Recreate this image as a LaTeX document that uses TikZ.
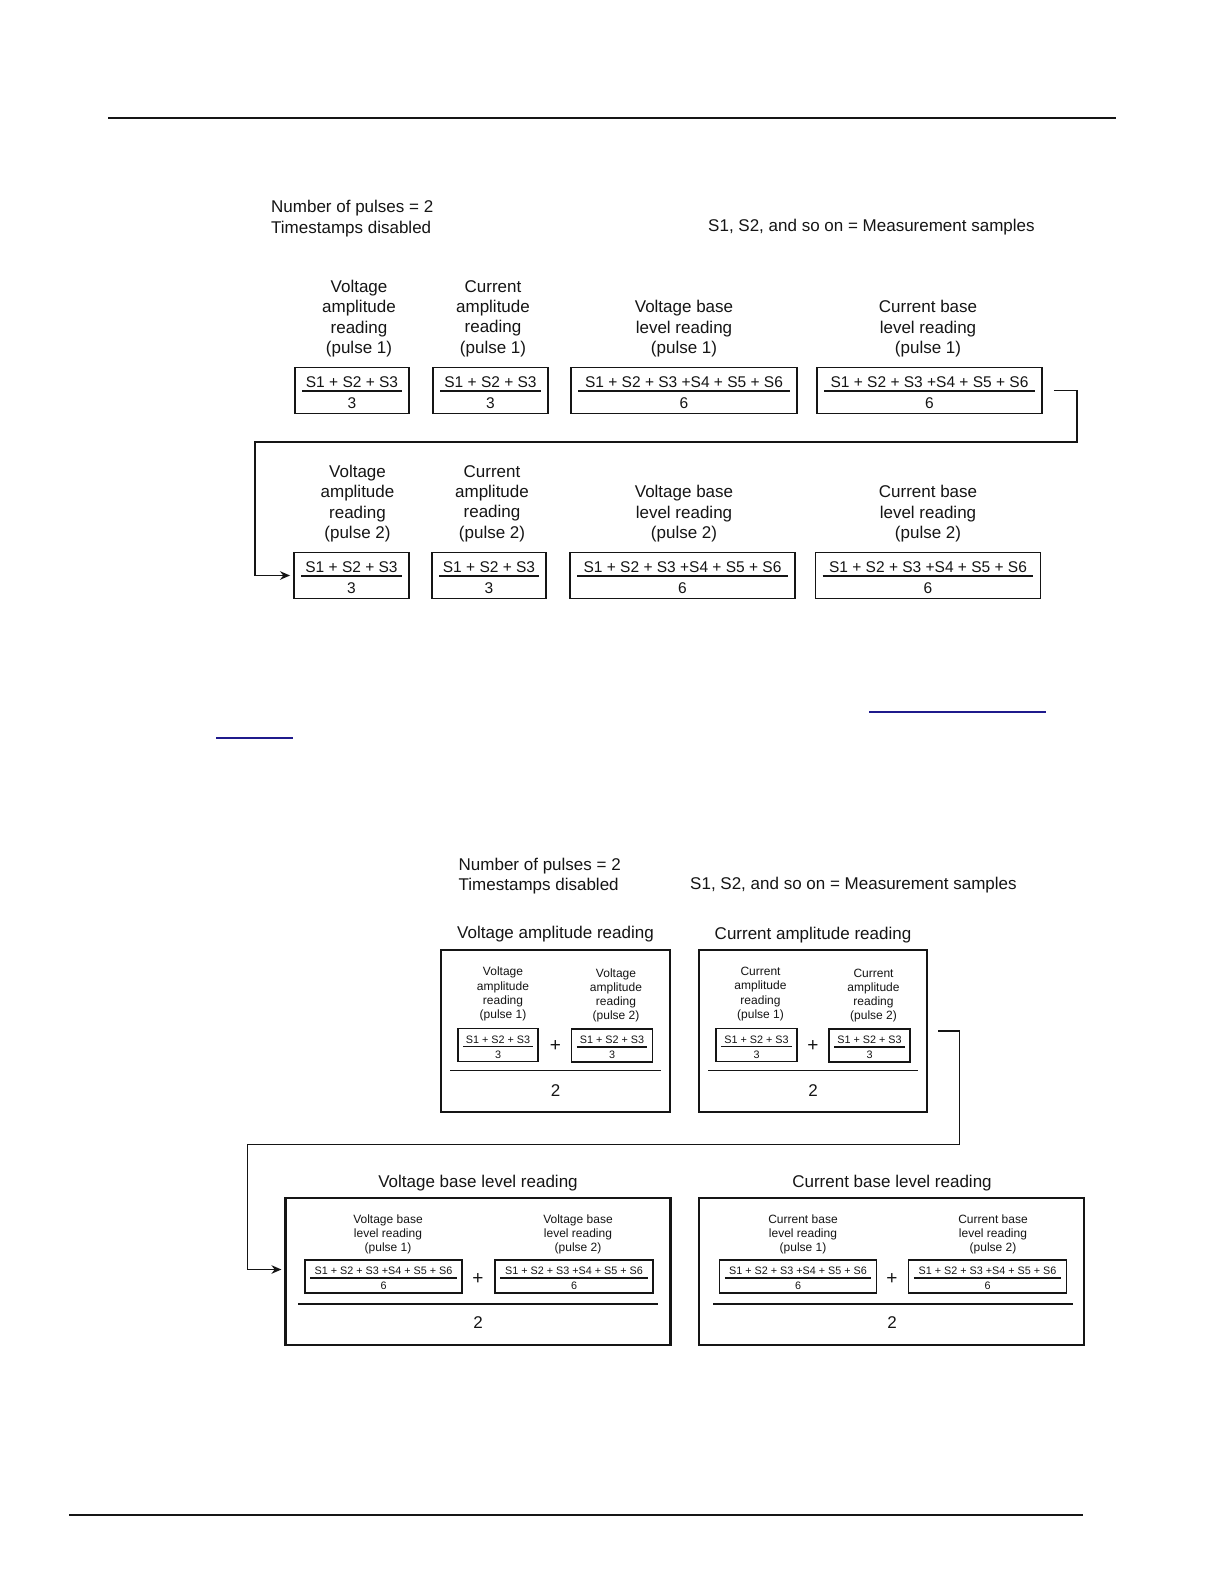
\documentclass[tikz,border=0pt]{standalone}
\usepackage{fontspec}
\setmainfont{Liberation Sans}
\usepackage{tikz}
\usetikzlibrary{arrows.meta, positioning, calc}
\definecolor{InkBlack}{HTML}{151515}
\definecolor{LinkBlue}{HTML}{1F1A8C}

\tikzset{
    txt/.style={font=\fontsize{17}{20.2}\selectfont, text=InkBlack, inner sep=0pt, align=center},
    lefttxt/.style={txt, align=left, anchor=west},
    numtxt/.style={font=\fontsize{15.5}{18}\selectfont, text=InkBlack, inner sep=0pt},
    smalltxt/.style={font=\fontsize{12}{14.1}\selectfont, text=InkBlack, inner sep=0pt, align=center},
    fractxt/.style={font=\fontsize{10.8}{12}\selectfont, text=InkBlack, inner sep=0pt},
    plustxt/.style={font=\fontsize{19}{19}\selectfont, text=InkBlack, inner sep=0pt},
    sumbox/.style={draw=InkBlack, line width=1.9pt, minimum height=46pt, inner sep=0pt},
    smallbox/.style={draw=InkBlack, line width=1.4pt, minimum height=33pt, inner sep=0pt},
    bigbox/.style={draw=InkBlack, line width=2.1pt, inner sep=0pt},
    fracline/.style={draw=InkBlack, line width=1.7pt},
    thinfrac/.style={draw=InkBlack, line width=1.2pt},
    link/.style={draw=InkBlack, line width=1.7pt, -{Stealth[length=10pt,width=8.5pt]}, shorten >=3pt},
}

% one reading box: name, centre, width, numerator, denominator
\newcommand{\readbox}[5]{%
    \node[sumbox, minimum width=#3] (#1) at (#2) {};
    \draw[fracline] ([xshift=8pt,yshift=-0.5pt]#1.west) -- ([xshift=-8pt,yshift=-0.5pt]#1.east);
    \node[numtxt] at ([yshift=8.5pt]#1.center) {#4};
    \node[numtxt] at ([yshift=-12.5pt]#1.center) {#5};
}
% the same, small, inside an average box
\newcommand{\pulsebox}[5]{%
    \node[smallbox, minimum width=#3] (#1) at (#2) {};
    \draw[thinfrac] ([xshift=6pt,yshift=-1.5pt]#1.west) -- ([xshift=-6pt,yshift=-1.5pt]#1.east);
    \node[fractxt] at ([yshift=5.5pt]#1.center) {#4};
    \node[fractxt] at ([yshift=-9.5pt]#1.center) {#5};
}

\begin{document}
\begin{tikzpicture}[x=1pt, y=-1pt]
    \fill[white] (0,0) rectangle (1224,1584);
    \useasboundingbox (0,0) rectangle (1224,1584);

    % page rules and link underlines
    \draw[line width=1.5pt, InkBlack] (108,118) -- (1116,118);
    \draw[line width=1.8pt, InkBlack] (69,1515) -- (1083,1515);
    \draw[line width=1.4pt, LinkBlue] (869,712) -- (1046,712);
    \draw[line width=1.4pt, LinkBlue] (216,738) -- (293,738);

    % ---------- readings per pulse ----------
    \node[lefttxt] (hdrtop) at (271,218.6) {Number of pulses = 2\\Timestamps disabled};
    \node[lefttxt] (legtop) at (708,227.5) {S1, S2, and so on = Measurement samples};

    \node[txt] (lva1) at (359,318.6) {Voltage\\amplitude\\reading\\(pulse 1)};
    \node[txt] (lca1) at (493,318.6) {Current\\amplitude\\reading\\(pulse 1)};
    \node[txt] (lvb1) at (684,328.7) {Voltage base\\level reading\\(pulse 1)};
    \node[txt] (lcb1) at (928,328.7) {Current base\\level reading\\(pulse 1)};

    \readbox{va1}{352,390.5}{114pt}{S1 + S2 + S3}{3}
    \readbox{ca1}{490.5,390.5}{115pt}{S1 + S2 + S3}{3}
    \readbox{vb1}{684,390.5}{226pt}{S1 + S2 + S3 +S4 + S5 + S6}{6}
    \readbox{cb1}{929.5,390.5}{225pt}{S1 + S2 + S3 +S4 + S5 + S6}{6}

    \node[txt] (lva2) at (357.5,503.6) {Voltage\\amplitude\\reading\\(pulse 2)};
    \node[txt] (lca2) at (492,503.6) {Current\\amplitude\\reading\\(pulse 2)};
    \node[txt] (lvb2) at (684,513.7) {Voltage base\\level reading\\(pulse 2)};
    \node[txt] (lcb2) at (928,513.7) {Current base\\level reading\\(pulse 2)};

    \readbox{va2}{351.5,575.5}{115pt}{S1 + S2 + S3}{3}
    \readbox{ca2}{489,575.5}{114pt}{S1 + S2 + S3}{3}
    \readbox{vb2}{682.5,575.5}{225pt}{S1 + S2 + S3 +S4 + S5 + S6}{6}
    \readbox{cb2}{928,575.5}{225pt}{S1 + S2 + S3 +S4 + S5 + S6}{6}

    \coordinate (turn1a) at (1077,442);
    \coordinate (turn1b) at (255,442);
    \draw[link] ([xshift=11pt]cb1.east) -| (turn1a) -- (turn1b) |- (va2.west);

    % ---------- averaged readings ----------
    \node[lefttxt] (hdrbot) at (458.5,876) {Number of pulses = 2\\Timestamps disabled};
    \node[lefttxt] (legbot) at (690,885.5) {S1, S2, and so on = Measurement samples};

    \node[txt] (tva) at (555.5,933.7) {Voltage amplitude reading};
    \node[txt] (tca) at (813,934.7) {Current amplitude reading};
    \node[bigbox, minimum width=229pt, minimum height=162pt] (bva) at (555.5,1031) {};
    \node[bigbox, minimum width=228pt, minimum height=162pt] (bca) at (813,1031) {};

    \node[smalltxt] (lsva1) at (503,994) {Voltage\\amplitude\\reading\\(pulse 1)};
    \node[smalltxt] (lsva2) at (616,995.5) {Voltage\\amplitude\\reading\\(pulse 2)};
    \pulsebox{sva1}{498,1045}{80pt}{S1 + S2 + S3}{3}
    \pulsebox{sva2}{612,1045.5}{81pt}{S1 + S2 + S3}{3}
    \node[plustxt] (plusva) at (555.5,1046) {+};
    \draw[fracline] (450,1070.5) -- (660.5,1070.5);
    \node[txt] (twova) at (555.5,1091) {2};

    \node[smalltxt] (lsca1) at (760.5,994) {Current\\amplitude\\reading\\(pulse 1)};
    \node[smalltxt] (lsca2) at (873.5,995.5) {Current\\amplitude\\reading\\(pulse 2)};
    \pulsebox{sca1}{756.5,1045}{81pt}{S1 + S2 + S3}{3}
    \pulsebox{sca2}{869.5,1045.5}{81pt}{S1 + S2 + S3}{3}
    \node[plustxt] (plusca) at (813,1046) {+};
    \draw[fracline] (708,1070.5) -- (918,1070.5);
    \node[txt] (twoca) at (813,1091) {2};

    \node[txt] (tvb) at (478,1182.7) {Voltage base level reading};
    \node[txt] (tcb) at (892,1182.7) {Current base level reading};
    \node[bigbox, minimum width=385pt, minimum height=147pt] (bvb) at (478,1271.5) {};
    \node[bigbox, minimum width=385pt, minimum height=147pt] (bcb) at (891.5,1271.5) {};

    \node[smalltxt] (lsvb1) at (388,1234.2) {Voltage base\\level reading\\(pulse 1)};
    \node[smalltxt] (lsvb2) at (578,1234.2) {Voltage base\\level reading\\(pulse 2)};
    \pulsebox{svb1}{383.5,1276.5}{157pt}{S1 + S2 + S3 +S4 + S5 + S6}{6}
    \pulsebox{svb2}{574,1276.5}{158pt}{S1 + S2 + S3 +S4 + S5 + S6}{6}
    \node[plustxt] (plusvb) at (478,1279) {+};
    \draw[fracline] (298,1304) -- (658,1304);
    \node[txt] (twovb) at (478,1323) {2};

    \node[smalltxt] (lscb1) at (803,1234.2) {Current base\\level reading\\(pulse 1)};
    \node[smalltxt] (lscb2) at (993,1234.2) {Current base\\level reading\\(pulse 2)};
    \pulsebox{scb1}{798,1276.5}{157pt}{S1 + S2 + S3 +S4 + S5 + S6}{6}
    \pulsebox{scb2}{987.5,1276.5}{158pt}{S1 + S2 + S3 +S4 + S5 + S6}{6}
    \node[plustxt] (pluscb) at (892,1279) {+};
    \draw[fracline] (713,1304) -- (1073,1304);
    \node[txt] (twocb) at (892,1323) {2};

    \coordinate (turn2a) at (959.5,1144.5);
    \coordinate (turn2b) at (247.5,1144.5);
    \draw[link] ([xshift=10pt]bca.east) -| (turn2a) -- (turn2b) |- ([yshift=2pt]bvb.west);
\end{tikzpicture}
\end{document}
